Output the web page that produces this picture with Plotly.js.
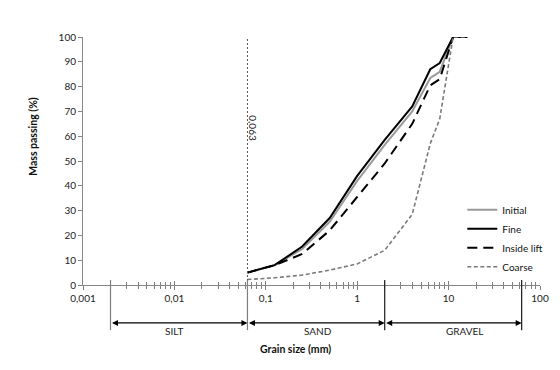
<!DOCTYPE html>
<html>
<head>
<meta charset="utf-8">
<script src="https://cdn.plot.ly/plotly-3.0.1.min.js"></script>
<style>html,body{margin:0;padding:0;background:#fff;}#chart{width:560px;height:370px;}</style>
</head>
<body>
<div id="chart"></div>
<script>
// Sieve sizes (mm)
const grainSize = [0.063, 0.125, 0.25, 0.5, 1, 2, 4, 6.3, 8, 11.2, 16];
// Mass passing (%)
const initial    = [5, 8, 14.5, 25.5, 42, 56.5, 70, 83.5, 86, 100, 100];
const fine       = [5, 8, 15.5, 27, 44, 58.5, 72, 87, 89.5, 100, 100];
const insideLift = [5, 8, 12.5, 22, 35.5, 49, 65, 80.5, 83, 100, 100];
const coarse     = [2.2, 2.9, 4, 6, 8.5, 14, 28.5, 57, 67, 100, 100];

const seriesNames = ["Initial", "Fine", "Inside lift", "Coarse"];
const xTickVals = [0.001, 0.01, 0.1, 1, 10, 100];
const xTickText = ["0,001", "0,01", "0,1", "1", "10", "100"];
const minorTickVals = [];
for (let e = -3; e < 2; e++) for (let m = 2; m <= 9; m++) minorTickVals.push(m * Math.pow(10, e));

// Soil class boundaries (mm) and labels
const boundaries = [0.002, 0.063, 2, 63];
const classNames = ["SILT", "SAND", "GRAVEL"];
const classLabelX = [0.01, 0.37, 15];
const siltSandLimit = 0.063;
const siltSandLabel = "0,063";

const FONT = "Lato, 'Open Sans', sans-serif";

const traces = [
  {x: grainSize, y: initial, name: seriesNames[0], mode: "lines",
   line: {color: "#9a9a9a", width: 2}},
  {x: grainSize, y: fine, name: seriesNames[1], mode: "lines",
   line: {color: "#000000", width: 2}},
  {x: grainSize, y: insideLift, name: seriesNames[2], mode: "lines",
   line: {color: "#000000", width: 2, dash: "10px,6px"}},
  {x: grainSize, y: coarse, name: seriesNames[3], mode: "lines",
   line: {color: "#7a7a7a", width: 1.6, dash: "4px,2.5px"}},
  {x: [], y: [], xaxis: "x2", showlegend: false, hoverinfo: "skip"}
];

const shapes = [];
// dotted 0.063 line in plot
shapes.push({type: "line", xref: "x", yref: "y", x0: siltSandLimit, x1: siltSandLimit, y0: 0, y1: 100,
  line: {color: "#555", width: 1, dash: "2px,2px"}});
// class boundaries below axis
boundaries.forEach((b, i) => {
  shapes.push({type: "line", xref: "x", yref: "paper", x0: b, x1: b, y0: 0.02, y1: -0.182,
    line: {color: i < 2 ? "#7f7f7f" : "#1a1a1a", width: 1.2}});
});

const annotations = [];
annotations.push({x: Math.log10(siltSandLimit), y: 63, xref: "x", yref: "y", text: siltSandLabel,
  textangle: 90, showarrow: false, xshift: 6, font: {family: FONT, size: 10, color: "#222"}});
for (let i = 0; i < classNames.length; i++) {
  const a = Math.log10(boundaries[i]), b = Math.log10(boundaries[i + 1]);
  annotations.push({x: b, y: -0.153, xref: "x", yref: "paper", ax: a, ay: 0,
    axref: "x", ayref: "pixel", text: "", showarrow: true, arrowhead: 2, arrowside: "end+start",
    arrowsize: 1, arrowwidth: 1.2, arrowcolor: "#000", standoff: 0, startstandoff: 0});
  annotations.push({x: Math.log10(classLabelX[i]), y: -0.185, xref: "x", yref: "paper",
    text: classNames[i], showarrow: false, yanchor: "middle",
    font: {family: FONT, size: 10, color: "#222"}});
}
annotations.push({x: 0.465, y: -0.26, xref: "paper", yref: "paper", text: "<b>Grain size (mm)</b>",
  showarrow: false, yanchor: "middle", font: {family: FONT, size: 10.5, color: "#111"}});
annotations.push({x: -0.108, y: 0.6, xref: "paper", yref: "paper", text: "<b>Mass passing (%)</b>",
  textangle: -90, showarrow: false, xanchor: "center", yanchor: "middle",
  font: {family: FONT, size: 10.5, color: "#111"}});

const xCommon = {
  type: "log", range: [-3, 2], showgrid: false, zeroline: false,
  tickmode: "array", tickvals: xTickVals, ticklen: 4, tickwidth: 1, tickcolor: "#7f7f7f",
  minor: {tickmode: "array", tickvals: minorTickVals, ticklen: 3, tickcolor: "#7f7f7f", tickwidth: 1, showgrid: false}
};

const layout = {
  width: 560, height: 370,
  margin: {l: 83, r: 18, t: 37, b: 85},
  paper_bgcolor: "#fff", plot_bgcolor: "#fff",
  font: {family: FONT, size: 10, color: "#222"},
  showlegend: true,
  legend: {x: 0.83, y: 0.362, xanchor: "left", yanchor: "top", bgcolor: "rgba(0,0,0,0)",
    font: {family: FONT, size: 10, color: "#111"}, tracegroupgap: 0},
  xaxis: Object.assign({}, xCommon, {
    ticks: "outside", ticktext: xTickText, showticklabels: true,
    showline: true, linecolor: "#868686", linewidth: 1,
    tickfont: {family: FONT, size: 10, color: "#222"},
    minor: Object.assign({}, xCommon.minor, {ticks: "outside"})
  }),
  xaxis2: Object.assign({}, xCommon, {
    overlaying: "x", ticks: "inside", showticklabels: false, showline: false,
    minor: Object.assign({}, xCommon.minor, {ticks: "inside"})
  }),
  yaxis: {range: [0, 100], dtick: 10, tick0: 0, showgrid: false, zeroline: false,
    showline: true, linecolor: "#868686", linewidth: 1, ticks: "outside", ticklen: 4,
    tickcolor: "#868686", tickfont: {family: FONT, size: 10, color: "#222"}},
  shapes: shapes,
  annotations: annotations
};

Plotly.newPlot("chart", traces, layout, {staticPlot: true, displayModeBar: false});
</script>
</body>
</html>
